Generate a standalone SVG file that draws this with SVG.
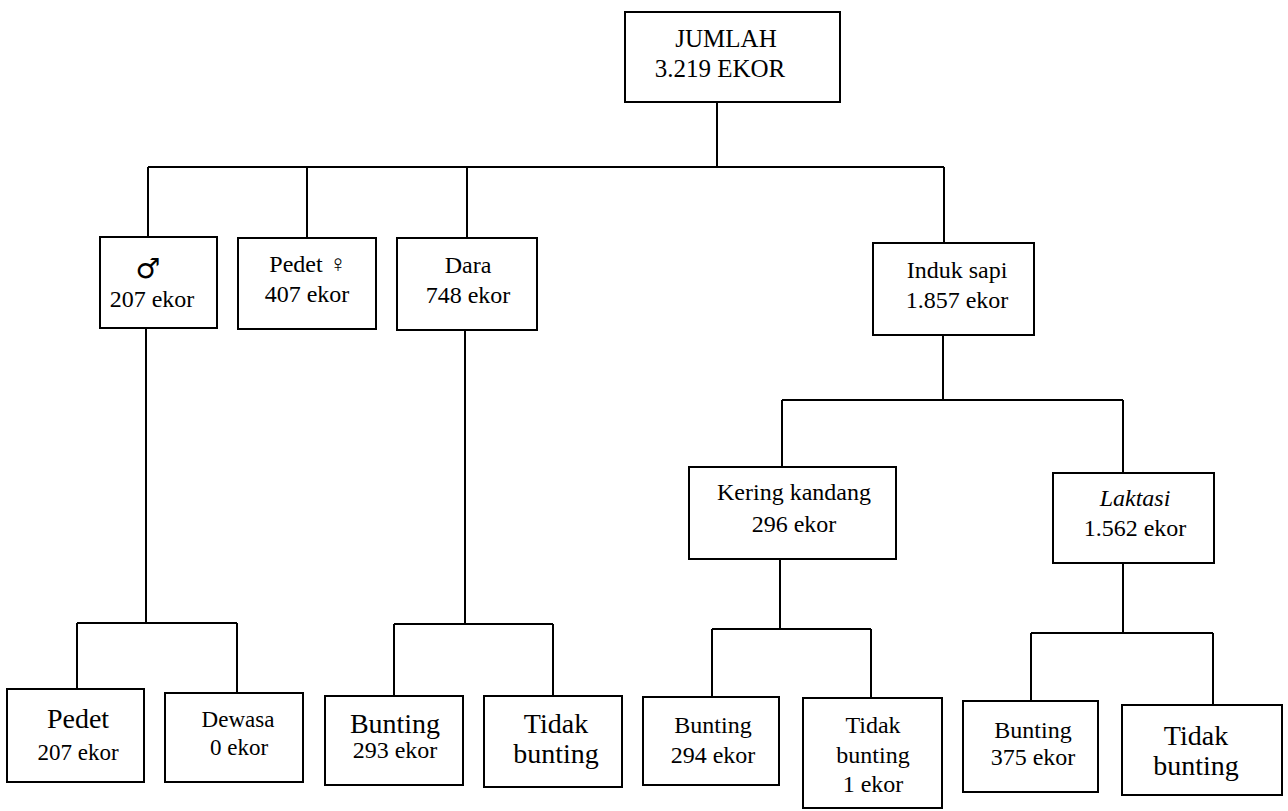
<svg xmlns="http://www.w3.org/2000/svg" width="1288" height="811" viewBox="0 0 1288 811" font-family="Liberation Serif, DejaVu Serif, serif">
<style>
.box{fill:#fff;stroke:#000;stroke-width:2}
.ln{fill:none;stroke:#000;stroke-width:2}
text{fill:#000;text-anchor:middle}
.t25{font-size:25px}
.t24{font-size:24px}
.t23{font-size:23px}
.t28{font-size:28px}
.sym{font-size:28px}
</style>
<rect width="1288" height="811" fill="#fff"/>
<g id="connectors">
<path class="ln" d="M717,102 V167 M148,167 H944 M148,167 V237 M307,167 V238 M467,167 V238 M944,167 V243"/>
<path class="ln" d="M146,328 V623 M77,623 H237 M77,623 V689 M237,623 V693"/>
<path class="ln" d="M465,330 V624 M394,624 H553 M394,624 V696 M553,624 V696"/>
<path class="ln" d="M943,335 V400 M782,400 H1123 M782,400 V467 M1123,400 V473"/>
<path class="ln" d="M780,559 V629 M712,629 H871 M712,629 V697 M871,629 V698"/>
<path class="ln" d="M1123,563 V633 M1031,633 H1213 M1031,633 V701 M1213,633 V705"/>
</g>
<g id="node-jumlah">
<rect class="box" x="625" y="12" width="215" height="90"/>
<text class="t25" x="726" y="47">JUMLAH</text>
<text class="t25" x="720" y="77">3.219 EKOR</text>
</g>
<g id="node-jantan">
<rect class="box" x="100" y="237" width="117" height="91"/>
<text class="sym" x="148" y="278" font-family="DejaVu Sans, sans-serif">♂</text>
<text class="t24" x="152" y="307">207 ekor</text>
</g>
<g id="node-pedet-betina">
<rect class="box" x="238" y="238" width="138" height="91"/>
<text class="t24" x="308" y="272">Pedet ♀</text>
<text class="t24" x="307" y="302">407 ekor</text>
</g>
<g id="node-dara">
<rect class="box" x="397" y="238" width="140" height="92"/>
<text class="t24" x="468" y="273">Dara</text>
<text class="t24" x="468" y="303">748 ekor</text>
</g>
<g id="node-induk">
<rect class="box" x="873" y="243" width="161" height="92"/>
<text class="t24" x="957" y="278">Induk sapi</text>
<text class="t24" x="957" y="308">1.857 ekor</text>
</g>
<g id="node-kering">
<rect class="box" x="689" y="467" width="207" height="92"/>
<text class="t24" x="794" y="500">Kering kandang</text>
<text class="t24" x="794" y="532">296 ekor</text>
</g>
<g id="node-laktasi">
<rect class="box" x="1053" y="473" width="161" height="90"/>
<text class="t24" x="1135" y="506" font-style="italic">Laktasi</text>
<text class="t24" x="1135" y="536">1.562 ekor</text>
</g>
<g id="node-pedet">
<rect class="box" x="7" y="689" width="137" height="93"/>
<text class="t28" x="78" y="728">Pedet</text>
<text class="t23" x="78" y="760">207 ekor</text>
</g>
<g id="node-dewasa">
<rect class="box" x="165" y="693" width="138" height="89"/>
<text class="t23" x="238" y="727">Dewasa</text>
<text class="t23" x="239" y="755">0 ekor</text>
</g>
<g id="node-dara-bunting">
<rect class="box" x="325" y="696" width="138" height="89"/>
<text class="t28" x="395" y="733">Bunting</text>
<text class="t24" x="395" y="758">293 ekor</text>
</g>
<g id="node-dara-tidak">
<rect class="box" x="484" y="696" width="138" height="91"/>
<text class="t28" x="556" y="733">Tidak</text>
<text class="t28" x="556" y="763">bunting</text>
</g>
<g id="node-kering-bunting">
<rect class="box" x="643" y="697" width="136" height="88"/>
<text class="t24" x="713" y="733">Bunting</text>
<text class="t24" x="713" y="763">294 ekor</text>
</g>
<g id="node-kering-tidak">
<rect class="box" x="803" y="698" width="139" height="110"/>
<text class="t24" x="873" y="733">Tidak</text>
<text class="t24" x="873" y="763">bunting</text>
<text class="t24" x="873" y="792">1 ekor</text>
</g>
<g id="node-laktasi-bunting">
<rect class="box" x="963" y="701" width="135" height="91"/>
<text class="t24" x="1033" y="738">Bunting</text>
<text class="t24" x="1033" y="765">375 ekor</text>
</g>
<g id="node-laktasi-tidak">
<rect class="box" x="1122" y="705" width="160" height="90"/>
<text class="t28" x="1196" y="745">Tidak</text>
<text class="t28" x="1196" y="775">bunting</text>
</g>
</svg>
